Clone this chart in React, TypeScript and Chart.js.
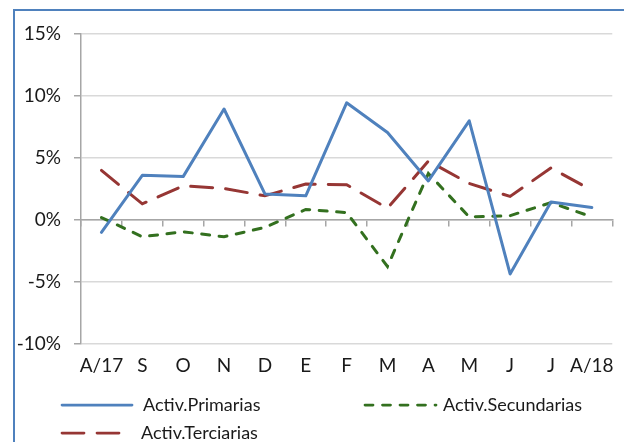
import React, { useEffect, useRef } from "react";
import { Chart, registerables } from "chart.js";

Chart.register(...registerables);

const categories = ["A/17", "S", "O", "N", "D", "E", "F", "M", "A", "M", "J", "J", "A/18"];
const primarias = [-1.0, 3.6, 3.5, 8.95, 2.1, 1.95, 9.45, 7.05, 3.15, 8.0, -4.35, 1.45, 1.0];
const secundarias = [0.2, -1.35, -0.95, -1.35, -0.6, 0.85, 0.6, -3.75, 3.75, 0.25, 0.35, 1.4, 0.25];
const terciarias = [4.0, 1.3, 2.75, 2.55, 1.95, 2.9, 2.85, 0.95, 4.75, 2.95, 1.9, 4.2, 2.4];
const yMin = -10;
const yMax = 15;
const yStep = 5;

const FONT = "Lato, 'Noto Sans', sans-serif";

const legendSlots = [
  { x: 62, y: 405, gap: 11 },
  { x: 365, y: 405, gap: 8 },
  { x: 62, y: 433, gap: 9 },
];

const legendPlugin = {
  id: "excelLegend",
  afterDraw(chart: any) {
    const ctx = chart.ctx;
    const sampleLen = 70;
    chart.data.datasets.forEach((ds: any, i: number) => {
      const slot = legendSlots[i];
      if (!slot) return;
      ctx.save();
      ctx.strokeStyle = ds.borderColor;
      ctx.lineWidth = 2.75;
      ctx.lineCap = ds.borderCapStyle || "butt";
      ctx.setLineDash(ds.borderDash || []);
      ctx.beginPath();
      ctx.moveTo(slot.x, slot.y);
      ctx.lineTo(slot.x + sampleLen + (i === 1 ? 1 : 0), slot.y);
      ctx.stroke();
      ctx.setLineDash([]);
      ctx.fillStyle = "#1a1a1a";
      ctx.font = `18px ${FONT}`;
      ctx.textBaseline = "middle";
      ctx.textAlign = "left";
      ctx.fillText(ds.label, slot.x + sampleLen + slot.gap, slot.y);
      ctx.restore();
    });
  },
};

export default function App() {
  const ref = useRef<HTMLCanvasElement | null>(null);

  useEffect(() => {
    if (!ref.current) return;
    const chart = new Chart(ref.current, {
      type: "line",
      data: {
        labels: categories,
        datasets: [
          {
            label: "Activ.Primarias",
            data: primarias,
            borderColor: "#4f81bd",
            borderWidth: 3,
            pointRadius: 0,
            tension: 0,
            borderJoinStyle: "round",
            borderCapStyle: "round",
          },
          {
            label: "Activ.Secundarias",
            data: secundarias,
            borderColor: "#33701f",
            borderWidth: 3,
            borderDash: [8, 9.5],
            borderCapStyle: "round",
            pointRadius: 0,
            tension: 0,
          },
          {
            label: "Activ.Terciarias",
            data: terciarias,
            borderColor: "#963634",
            borderWidth: 3,
            borderDash: [22, 13],
            borderCapStyle: "round",
            pointRadius: 0,
            tension: 0,
          },
        ],
      },
      options: {
        responsive: false,
        animation: false,
        layout: { padding: { left: 0, right: 11, top: 34, bottom: 0 } },
        plugins: {
          legend: { display: false },
          tooltip: { enabled: false },
        },
        scales: {
          x: {
            type: "category",
            offset: true,
            position: "bottom",
            grid: { display: false, drawTicks: false },
            border: { display: false },
            ticks: {
              color: "#1a1a1a",
              font: { family: FONT, size: 19 },
              padding: 10,
              maxRotation: 0,
              autoSkip: false,
            },
            afterFit(scale: any) {
              scale.height = 98;
            },
          },
          x2: {
            type: "category",
            offset: true,
            position: { y: 0 },
            grid: {
              drawOnChartArea: false,
              offset: true,
              tickLength: 6,
              tickColor: "#a6a6a6",
              lineWidth: 1.5,
            },
            border: { display: true, color: "#a6a6a6", width: 1.5 },
            ticks: { display: false },
          },
          y: {
            min: yMin,
            max: yMax,
            ticks: {
              stepSize: yStep,
              color: "#1a1a1a",
              font: { family: FONT, size: 19 },
              padding: 13,
              callback: (v: any) => `${v}%`,
            },
            grid: {
              color: "#d9d9d9",
              lineWidth: 1.5,
              tickLength: 7,
              tickColor: "#a6a6a6",
            },
            border: { display: true, color: "#a6a6a6", width: 1.5 },
            afterFit(scale: any) {
              scale.width = 81;
            },
          },
        },
      },
      plugins: [legendPlugin],
    } as any);
    return () => chart.destroy();
  }, []);

  return (
    <div
      style={{
        position: "fixed",
        left: 0,
        top: 0,
        width: 624,
        height: 442,
        overflow: "hidden",
        background: "#fff",
      }}
    >
      <canvas ref={ref} width={624} height={442} style={{ display: "block" }} />
      <div
        style={{
          position: "absolute",
          left: 13,
          top: 9,
          width: 700,
          height: 600,
          border: "2px solid #4f81bd",
          pointerEvents: "none",
        }}
      />
    </div>
  );
}
